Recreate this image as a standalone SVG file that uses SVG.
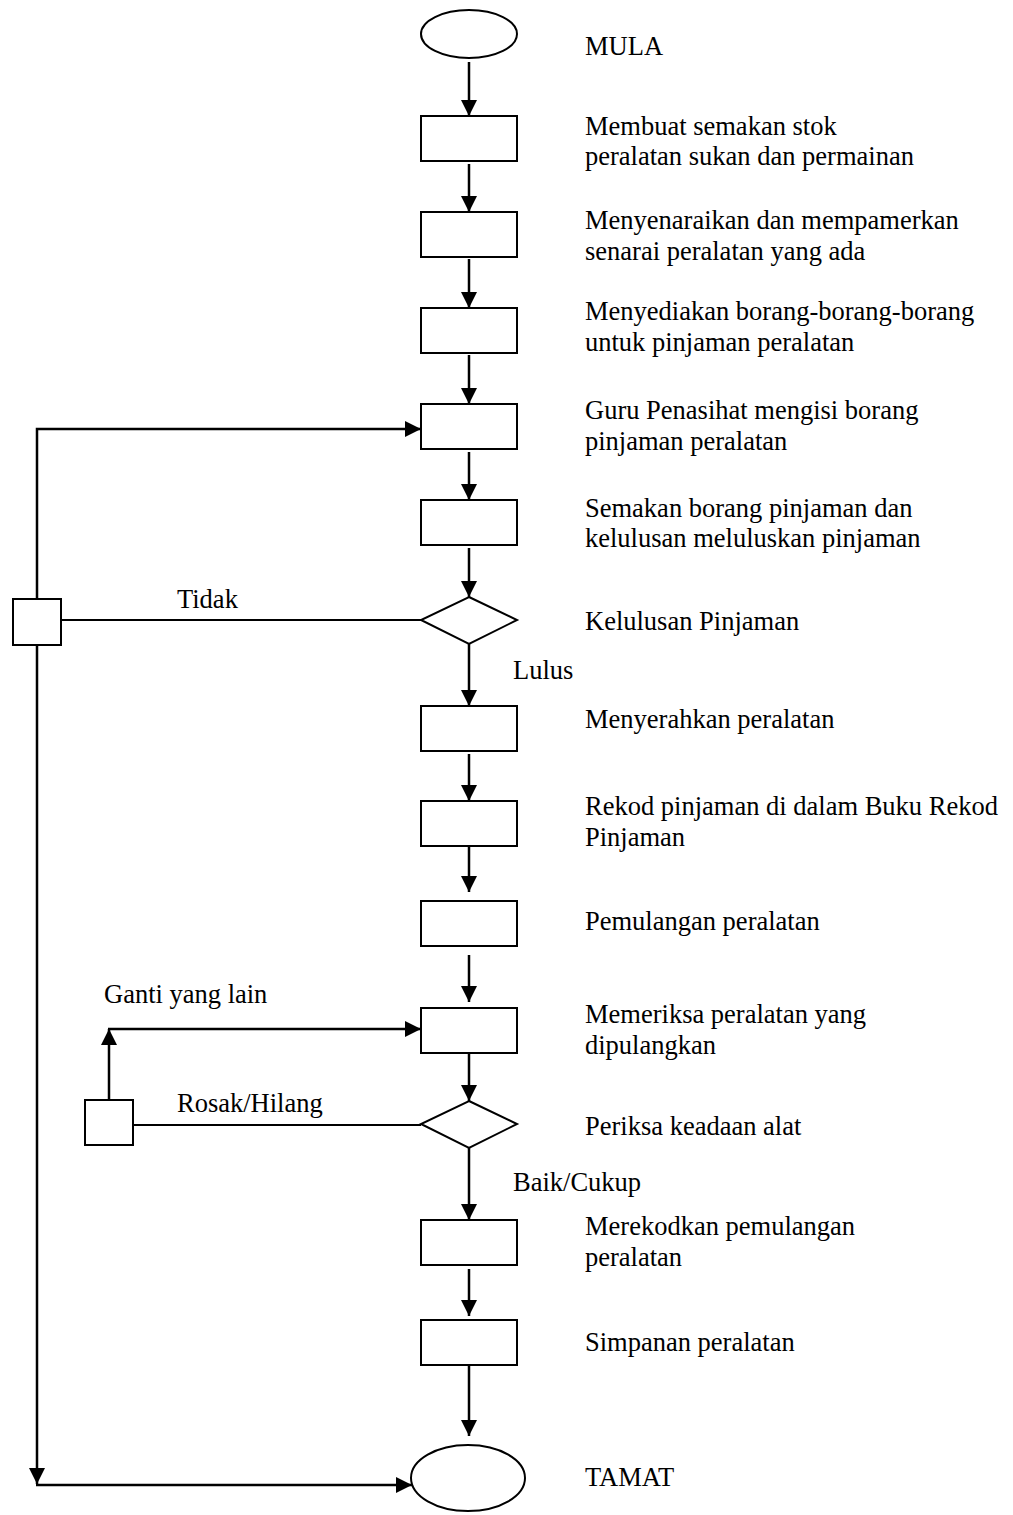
<svg xmlns="http://www.w3.org/2000/svg" width="1013" height="1515" viewBox="0 0 1013 1515">
  <style>
    .node { fill: #fff; stroke: #000; stroke-width: 2; }
    .wire { fill: none; stroke: #000; stroke-width: 2; }
    .arrow { fill: none; stroke: #000; stroke-width: 2.5; marker-end: url(#head); }
    text { font-family: "Liberation Serif", "Times New Roman", serif; font-size: 26.5px; fill: #000; }
  </style>
  <defs>
    <marker id="head" markerUnits="userSpaceOnUse" markerWidth="18" markerHeight="17" refX="16" refY="8" orient="auto">
      <path d="M0,0 L16,8 L0,16 z" fill="#000"/>
    </marker>
  </defs>
  <rect width="1013" height="1515" fill="#fff"/>

  <!-- flow nodes -->
  <g id="mula"><ellipse class="node" cx="469" cy="34" rx="48" ry="24"/><text x="585" y="55">MULA</text></g>
  <g id="semak-stok"><rect class="node" x="421" y="116" width="96" height="45"/>
    <text x="585" y="135">Membuat semakan stok</text><text x="585" y="165">peralatan sukan dan permainan</text></g>
  <g id="senarai"><rect class="node" x="421" y="212" width="96" height="45"/>
    <text x="585" y="229">Menyenaraikan dan mempamerkan</text><text x="585" y="260">senarai peralatan yang ada</text></g>
  <g id="borang"><rect class="node" x="421" y="308" width="96" height="45"/>
    <text x="585" y="320">Menyediakan borang-borang-borang</text><text x="585" y="351">untuk pinjaman peralatan</text></g>
  <g id="isi-borang"><rect class="node" x="421" y="404" width="96" height="45"/>
    <text x="585" y="419">Guru Penasihat mengisi borang</text><text x="585" y="450">pinjaman peralatan</text></g>
  <g id="semak-borang"><rect class="node" x="421" y="500" width="96" height="45"/>
    <text x="585" y="517">Semakan borang pinjaman dan</text><text x="585" y="547">kelulusan meluluskan pinjaman</text></g>
  <g id="kelulusan"><polygon class="node" points="469,597 517,620 469,644 421,620"/>
    <text x="585" y="630">Kelulusan Pinjaman</text></g>
  <g id="serah"><rect class="node" x="421" y="706" width="96" height="45"/>
    <text x="585" y="728">Menyerahkan peralatan</text></g>
  <g id="rekod"><rect class="node" x="421" y="801" width="96" height="45"/>
    <text x="585" y="815">Rekod pinjaman di dalam Buku Rekod</text><text x="585" y="846">Pinjaman</text></g>
  <g id="pemulangan"><rect class="node" x="421" y="901" width="96" height="45"/>
    <text x="585" y="930">Pemulangan peralatan</text></g>
  <g id="periksa"><rect class="node" x="421" y="1008" width="96" height="45"/>
    <text x="585" y="1023">Memeriksa peralatan yang</text><text x="585" y="1054">dipulangkan</text></g>
  <g id="keadaan"><polygon class="node" points="469,1101 517,1124 469,1148 421,1124"/>
    <text x="585" y="1135">Periksa keadaan alat</text></g>
  <g id="rekod-pulang"><rect class="node" x="421" y="1220" width="96" height="45"/>
    <text x="585" y="1235">Merekodkan pemulangan</text><text x="585" y="1266">peralatan</text></g>
  <g id="simpan"><rect class="node" x="421" y="1320" width="96" height="45"/>
    <text x="585" y="1351">Simpanan peralatan</text></g>
  <g id="tamat"><ellipse class="node" cx="468" cy="1478" rx="57" ry="33"/><text x="585" y="1486">TAMAT</text></g>
  <g id="tolak"><rect class="node" x="13" y="599" width="48" height="46"/></g>
  <g id="ganti"><rect class="node" x="85" y="1100" width="48" height="45"/></g>

  <!-- connectors -->
  <g id="connectors">
    <line class="arrow" x1="469" y1="62" x2="469" y2="116"/>
    <line class="arrow" x1="469" y1="164" x2="469" y2="212"/>
    <line class="arrow" x1="469" y1="259" x2="469" y2="308"/>
    <line class="arrow" x1="469" y1="355" x2="469" y2="404"/>
    <line class="arrow" x1="469" y1="452" x2="469" y2="500"/>
    <line class="arrow" x1="469" y1="548" x2="469" y2="597"/>
    <line class="arrow" x1="469" y1="644" x2="469" y2="706"/>
    <line class="arrow" x1="469" y1="754" x2="469" y2="801"/>
    <line class="arrow" x1="469" y1="846" x2="469" y2="892"/>
    <line class="arrow" x1="469" y1="955" x2="469" y2="1002"/>
    <line class="arrow" x1="469" y1="1053" x2="469" y2="1101"/>
    <line class="arrow" x1="469" y1="1148" x2="469" y2="1220"/>
    <line class="arrow" x1="469" y1="1269" x2="469" y2="1316"/>
    <line class="arrow" x1="469" y1="1365" x2="469" y2="1436"/>

    <!-- Tidak branch -->
    <line class="wire" x1="421" y1="620" x2="61" y2="620"/>
    <polyline class="arrow" points="37,599 37,429 421,429"/>
    <line class="arrow" x1="37" y1="645" x2="37" y2="1484"/>
    <line class="arrow" x1="36" y1="1485" x2="412" y2="1485"/>
    <text x="177" y="608">Tidak</text>
    <text x="513" y="679">Lulus</text>

    <!-- Rosak/Hilang branch -->
    <line class="wire" x1="421" y1="1125" x2="133" y2="1125"/>
    <line class="arrow" x1="109" y1="1100" x2="109" y2="1029"/>
    <line class="arrow" x1="108" y1="1029" x2="421" y2="1029"/>
    <text x="104" y="1003">Ganti yang lain</text>
    <text x="177" y="1112">Rosak/Hilang</text>
    <text x="513" y="1191">Baik/Cukup</text>
  </g>
</svg>
